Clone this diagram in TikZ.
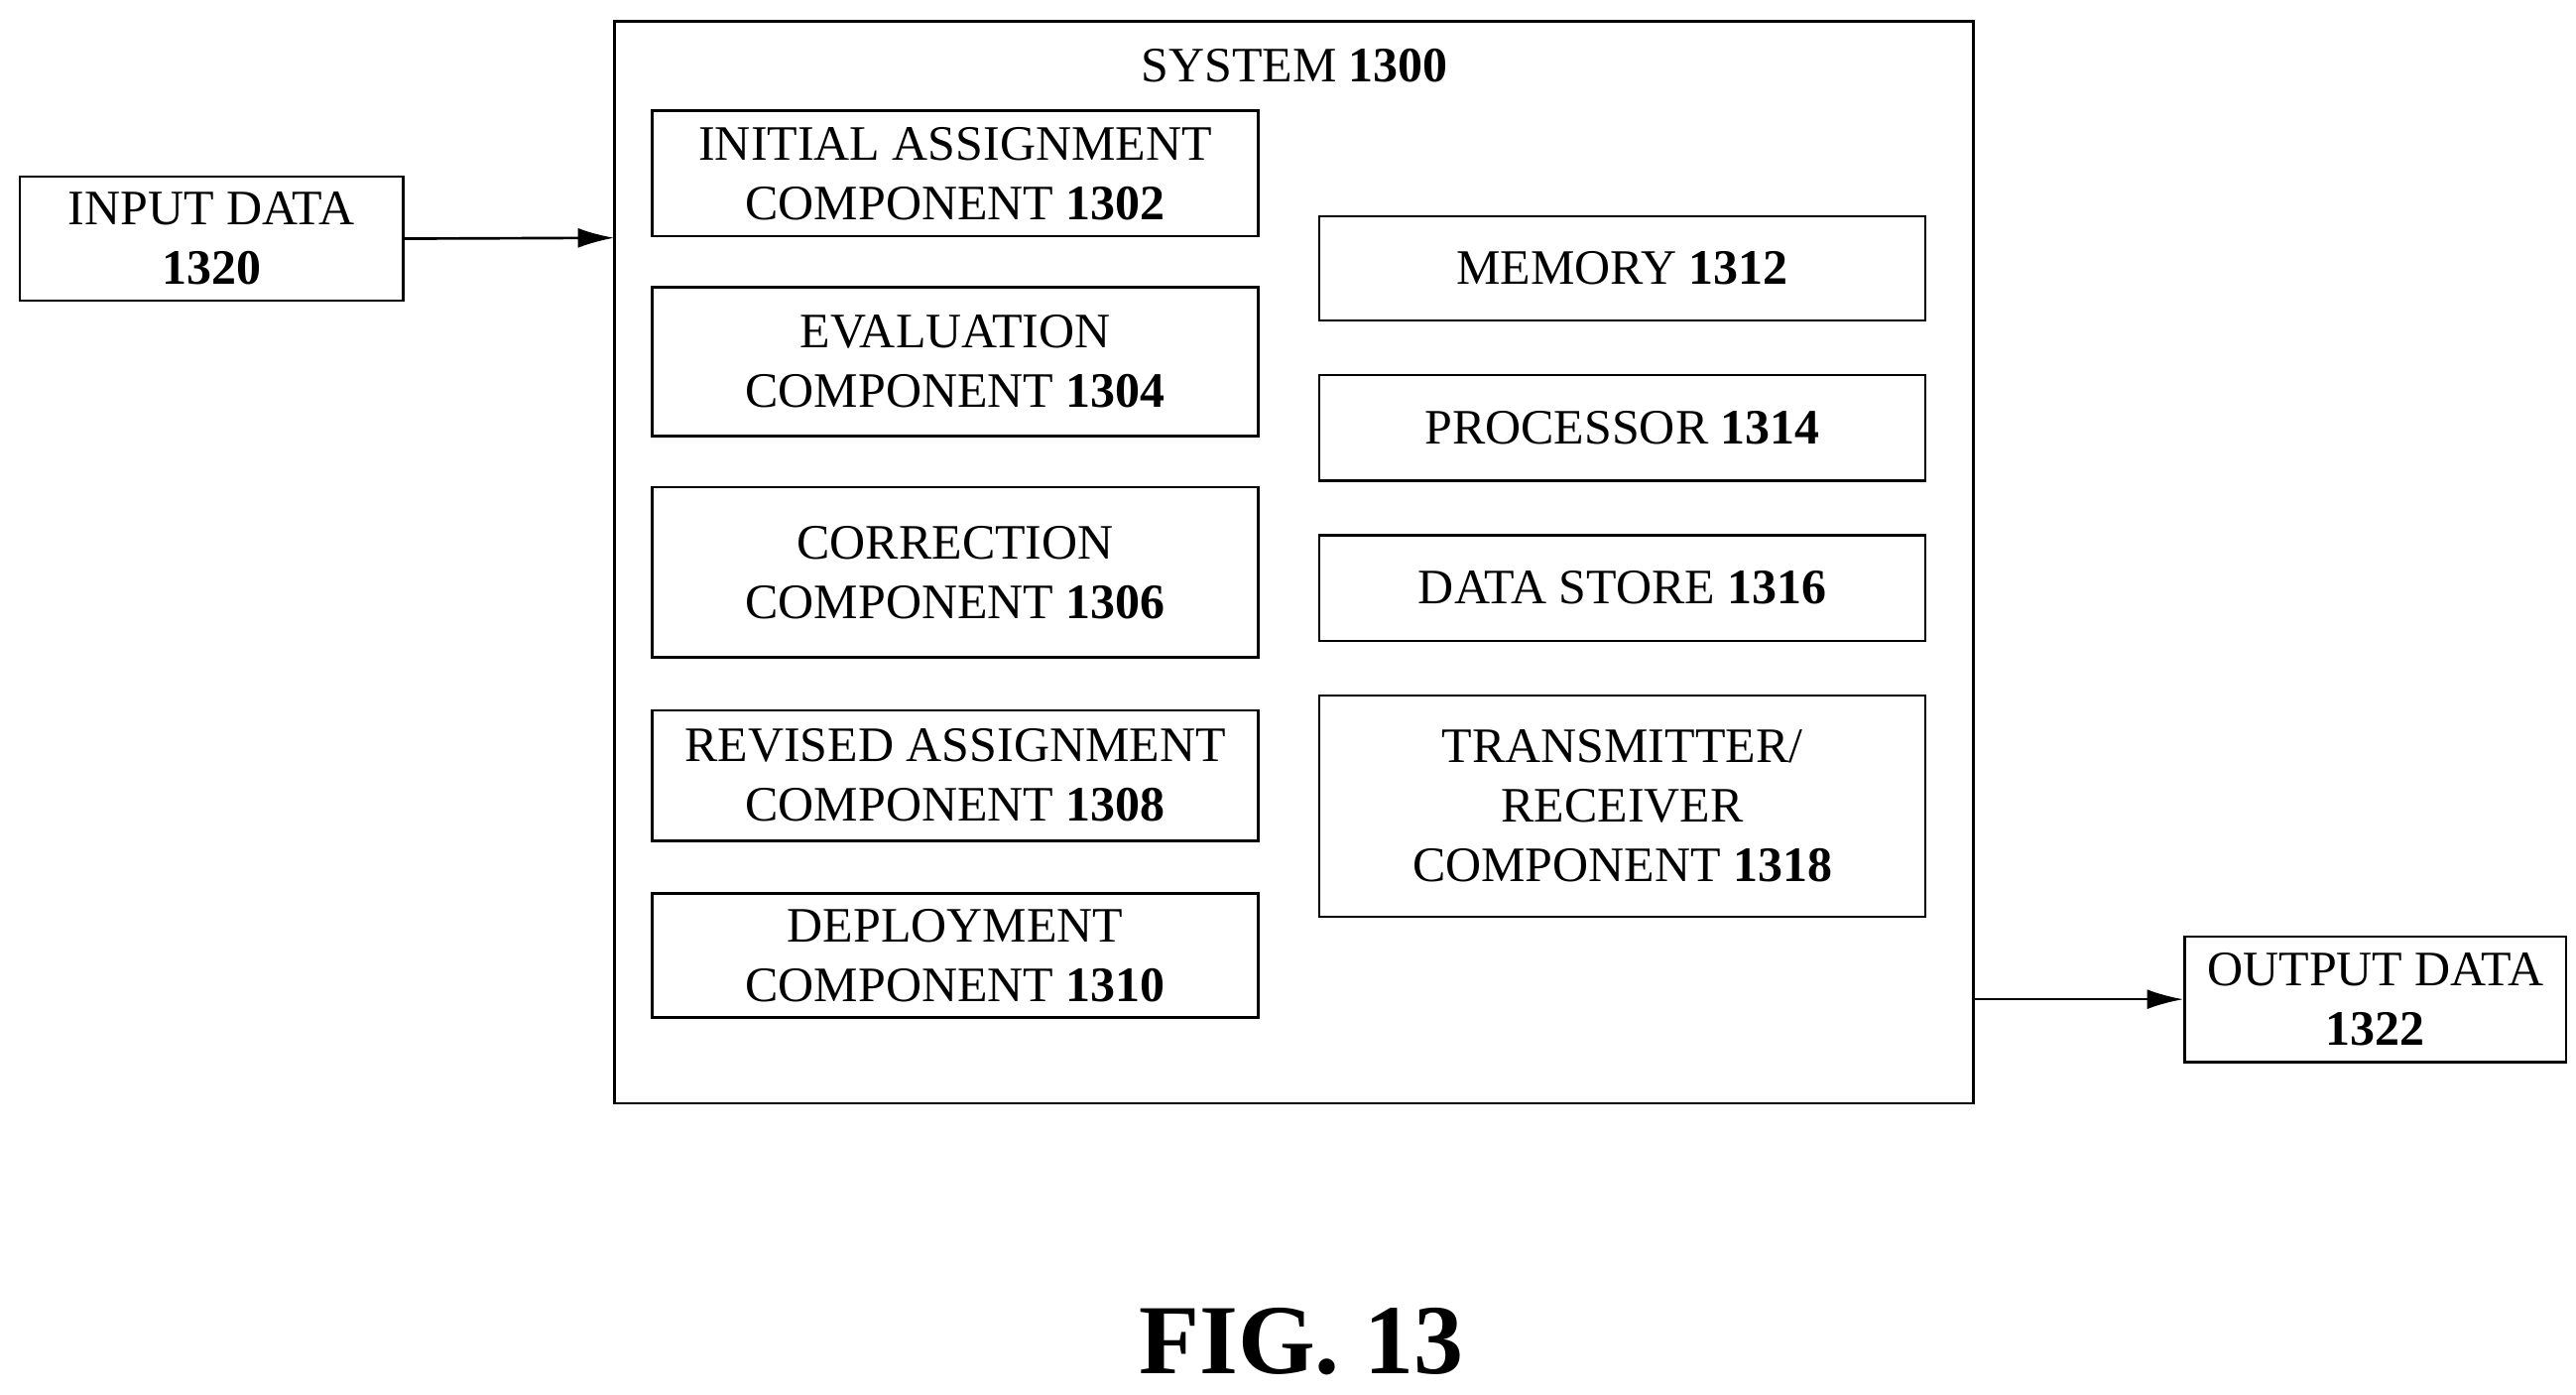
\documentclass[tikz,border=0pt]{standalone}
\usepackage{fontspec}
\setmainfont{Liberation Serif}
\usetikzlibrary{arrows.meta}
\begin{document}
\begin{tikzpicture}[x=0.5pt,y=-0.5pt,
  box/.style={draw,line width=0.8pt,inner sep=0pt,align=center,font=\fontsize{15}{18}\selectfont},
  arr/.style={-{Latex[length=11pt,width=6pt]},line width=0.8pt}]
\useasboundingbox (0,0) rectangle (1560,844);
\node[box,minimum width=411.5pt,minimum height=327.5pt] (sys) at (783.5,340.5) {};
\node[font=\fontsize{15}{18}\selectfont] (t) at (784,40) {SYSTEM \textbf{1300}};
\node[box,minimum width=183.5pt,minimum height=38pt] (a) at (578.5,105) {INITIAL ASSIGNMENT\\COMPONENT \textbf{1302}};
\node[box,minimum width=183.5pt,minimum height=45pt] (b) at (578.5,219) {EVALUATION\\COMPONENT \textbf{1304}};
\node[box,minimum width=183.5pt,minimum height=51.5pt] (c) at (578.5,346.5) {CORRECTION\\COMPONENT \textbf{1306}};
\node[box,minimum width=183.5pt,minimum height=39.5pt] (d) at (578.5,469.5) {REVISED ASSIGNMENT\\COMPONENT \textbf{1308}};
\node[box,minimum width=183.5pt,minimum height=37.5pt] (e) at (578.5,578.5) {DEPLOYMENT\\COMPONENT \textbf{1310}};
\node[box,minimum width=183.5pt,minimum height=31.5pt] (f) at (982.5,162.5) {MEMORY \textbf{1312}};
\node[box,minimum width=183.5pt,minimum height=32pt] (g) at (982.5,259) {PROCESSOR \textbf{1314}};
\node[box,minimum width=183.5pt,minimum height=32pt] (h) at (982.5,356) {DATA STORE \textbf{1316}};
\node[box,minimum width=183.5pt,minimum height=67pt] (i) at (982.5,488) {TRANSMITTER/\\RECEIVER\\COMPONENT \textbf{1318}};
\node[box,minimum width=116pt,minimum height=37.5pt] (in) at (128,144.5) {INPUT DATA\\\textbf{1320}};
\node[box,minimum width=115.5pt,minimum height=38pt] (out) at (1438.5,605) {OUTPUT DATA\\\textbf{1322}};
\coordinate (s1) at (372,144);
\coordinate (s2) at (1195,605);
\draw[arr] (in.east) -- (s1);
\draw[arr] (s2) -- (out.west);
\node[font=\fontsize{30}{36}\selectfont\bfseries] (fig) at (788,812) {FIG. 13};
\end{tikzpicture}
\end{document}
